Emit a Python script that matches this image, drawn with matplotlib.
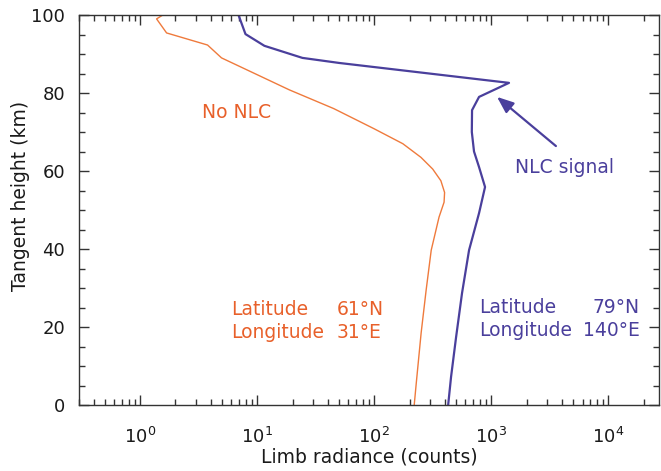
import matplotlib
matplotlib.use("Agg")
import matplotlib.pyplot as plt
from matplotlib.ticker import MultipleLocator, LogLocator

# Limb radiance profiles (counts) against tangent height (km)
no_nlc_radiance = [1.56, 1.38, 1.68, 3.76, 4.95, 18.8, 45, 100, 175, 250, 315,
                   370, 398, 394, 357, 306, 277, 251, 228, 219]
no_nlc_height = [100, 99.0, 95.4, 92.3, 89.0, 80.8, 76.0, 70.8, 67.0, 63.5, 60.5,
                 57.5, 54.5, 52.0, 48.2, 39.7, 29.5, 18.5, 5.6, 0]

nlc_radiance = [6.91, 7.93, 11.5, 24.3, 50.2, 1413, 784, 683, 680, 710, 784, 882,
                784, 644, 561, 499, 452, 427]
nlc_height = [100, 95.1, 92.1, 89.0, 87.7, 82.6, 79.0, 75.6, 70.0, 65.0, 61.0, 55.9,
              49.2, 39.7, 28.7, 17.4, 7.2, 0]

x_ticks = [1e0, 1e1, 1e2, 1e3, 1e4]
y_ticks = [0, 20, 40, 60, 80, 100]

ORANGE_LINE = "#ef7a3c"
ORANGE_TEXT = "#e8602a"
BLUE = "#4a3f9c"
AXIS = "#333333"
TXT = 13.5

plt.rcParams["font.family"] = ["DejaVu Sans"]

fig = plt.figure(figsize=(6.61, 4.71), dpi=100)
ax = fig.add_axes([79 / 661, 1 - 405 / 471, 580 / 661, 390 / 471])

ax.plot(no_nlc_radiance, no_nlc_height, color=ORANGE_LINE, lw=1.0)
ax.plot(nlc_radiance, nlc_height, color=BLUE, lw=1.6)

ax.set_xscale("log")
ax.set_xlim(0.3, 2.7e4)
ax.set_ylim(0, 100)
ax.set_xticks(x_ticks)
ax.xaxis.set_minor_locator(LogLocator(base=10, subs=range(2, 10), numticks=20))
ax.set_yticks(y_ticks)
ax.yaxis.set_minor_locator(MultipleLocator(5))

ax.tick_params(which="both", direction="in", top=True, right=True,
               color=AXIS, width=1.0, labelsize=13, labelcolor="#1a1a1a")
ax.tick_params(which="major", length=7.5)
ax.tick_params(which="minor", length=4.3)
ax.tick_params(axis="x", pad=16)
ax.tick_params(axis="y", pad=10)
for s in ax.spines.values():
    s.set_color(AXIS)
    s.set_linewidth(1.0)

ax.set_xlabel("Limb radiance (counts)", fontsize=TXT, color="#1a1a1a", labelpad=0)
ax.set_ylabel("Tangent height (km)", fontsize=TXT, color="#1a1a1a")
ax.yaxis.set_label_coords(-0.085, 0.536)

# Annotations
ax.text(6.65, 75, "No NLC", color=ORANGE_TEXT, ha="center", va="center", fontsize=TXT)
ax.text(6.03, 24.6, "Latitude", color=ORANGE_TEXT, ha="left", va="center", fontsize=TXT)
ax.text(6.03, 18.7, "Longitude", color=ORANGE_TEXT, ha="left", va="center", fontsize=TXT)
ax.text(47.3, 24.6, "61°N", color=ORANGE_TEXT, ha="left", va="center", fontsize=TXT)
ax.text(47.3, 18.7, "31°E", color=ORANGE_TEXT, ha="left", va="center", fontsize=TXT)

ax.text(784, 25.1, "Latitude", color=BLUE, ha="left", va="center", fontsize=TXT)
ax.text(784, 19.0, "Longitude", color=BLUE, ha="left", va="center", fontsize=TXT)
ax.text(18500, 25.1, "79°N", color=BLUE, ha="right", va="center", fontsize=TXT)
ax.text(18500, 19.0, "140°E", color=BLUE, ha="right", va="center", fontsize=TXT)

ax.text(1589, 60.8, "NLC signal", color=BLUE, ha="left", va="center", fontsize=TXT)
ax.annotate("", xy=(1116, 79), xytext=(3555, 66.4),
            arrowprops=dict(arrowstyle="-|>,head_length=1.0,head_width=0.4",
                            color=BLUE, lw=1.6, shrinkA=0, shrinkB=0))

fig.savefig("out.png", dpi=100, facecolor="white")
